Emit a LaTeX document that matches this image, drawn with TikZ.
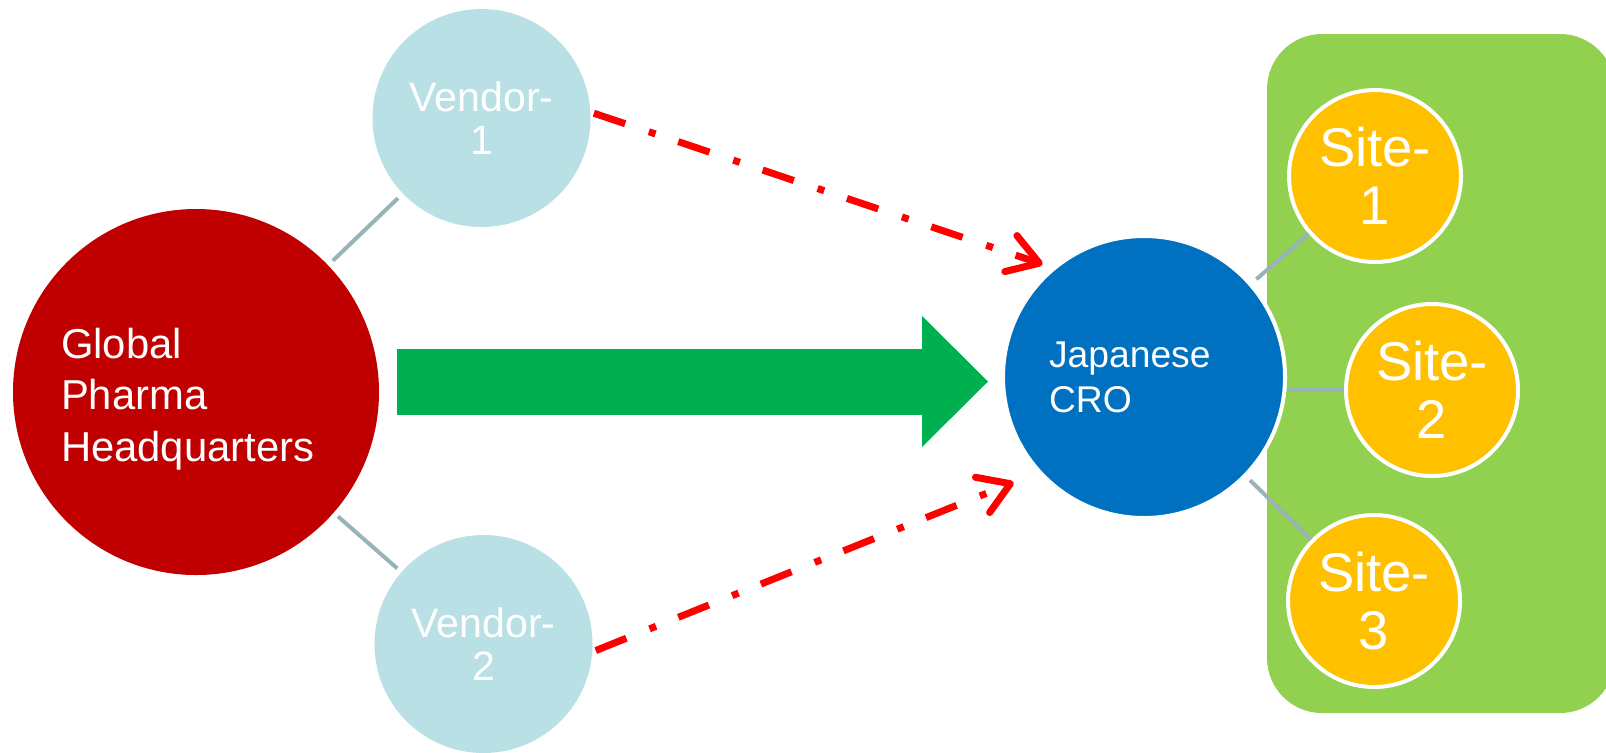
\documentclass[tikz,border=0pt]{standalone}
\usepackage{fontspec}
\setmainfont{Liberation Sans}
\usetikzlibrary{arrows.meta,calc}

\definecolor{hqred}{RGB}{192,0,0}
\definecolor{vendorblue}{RGB}{185,224,228}
\definecolor{pushgreen}{RGB}{0,176,80}
\definecolor{croblue}{RGB}{0,112,192}
\definecolor{boxgreen}{RGB}{146,208,80}
\definecolor{siteyellow}{RGB}{255,192,0}
\definecolor{linkgray}{RGB}{152,180,186}

\begin{document}
\begin{tikzpicture} [scale=1.00]
  % node and line looks
  \tikzstyle{hub}=[circle, inner sep=0pt, text=white]
  \tikzstyle{hq}=[hub, fill=hqred, minimum size=3.66cm, text width=2.70cm, text depth=0.98cm, align=left, font=\fontsize{11.9}{14.65}\selectfont]
  \tikzstyle{vendor}=[hub, fill=vendorblue, minimum size=2.18cm, align=center, font=\fontsize{11.7}{12.2}\selectfont]
  \tikzstyle{cro}=[hub, fill=croblue, draw=white, line width=0.04cm, minimum size=2.82cm, text width=1.90cm, align=left, font=\fontsize{10.6}{12.8}\selectfont]
  \tikzstyle{site}=[hub, fill=siteyellow, draw=white, line width=0.04cm, minimum size=1.72cm, align=center, font=\fontsize{15.5}{16.5}\selectfont]
  \tikzstyle{sitebox}=[rectangle, fill=boxgreen, rounded corners=0.55cm, minimum width=3.48cm, minimum height=6.79cm]
  \tikzstyle{hubline}=[draw=linkgray, line width=0.04cm]
  \tikzstyle{handoff}=[draw=red, line width=0.07cm, dash pattern=on 0.33cm off 0.25cm on 0.07cm off 0.24cm, -{Straight Barb[length=0.30cm,width=0.38cm,round]}]
  \tikzstyle{push}=[draw=pushgreen, line width=0.66cm, -{Triangle[length=0.66cm,width=1.31cm,line width=0pt]}]

  \useasboundingbox[fill=white] (0.00, 0.00) rectangle (16.06, 7.52);

  % Draw the nodes
  \node [sitebox] (frame) at (14.41, 3.785) {};
  \node [hq] (HQ) at (1.96, 3.60) {Global\\Pharma\\Headquarters};
  \node [vendor] (V1) at (4.815, 6.34) {Vendor-\\1};
  \node [vendor] (V2) at (4.835, 1.08) {Vendor-\\2};
  \node [cro] (CRO) at (11.44, 3.75) {Japanese\\CRO};
  \node [site] (S1) at (13.75, 5.76) {Site-\\1};
  \node [site] (S2) at (14.32, 3.62) {Site-\\2};
  \node [site] (S3) at (13.74, 1.51) {Site-\\3};

  % edge connectors
  \draw [hubline, shorten <=0.06cm, shorten >=0.06cm] (HQ) -- (V1);
  \draw [hubline, shorten <=0.05cm, shorten >=0.05cm] (HQ) -- (V2);
  \draw [hubline, shorten <=0.06cm] (CRO) -- (S1);
  \draw [hubline] (S2.west) -- (S2.west -| CRO.east);
  \draw [hubline, shorten <=0.05cm] (CRO) -- (S3);

  % vendor hand-offs
  \draw [handoff, shorten <=0.03cm, shorten >=0.10cm] (V1.3) -- (CRO.130);
  \draw [handoff, shorten <=0.03cm, shorten >=0.26cm] (V2.-4) -- (CRO.222);

  % main transfer
  \draw [push, shorten <=0.17cm, shorten >=0.13cm] ($(HQ.east |- CRO.west)+(0,-0.045)$) -- ($(CRO.west)+(0,-0.045)$);

\end{tikzpicture}
\end{document}
